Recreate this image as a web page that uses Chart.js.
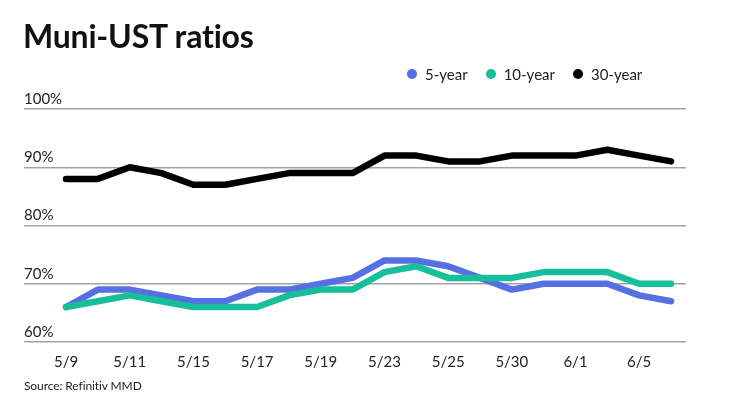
<!DOCTYPE html>
<html>
<head>
<meta charset="utf-8">
<script src="https://cdn.jsdelivr.net/npm/chart.js@4.4.0/dist/chart.umd.min.js"></script>
<style>
  body { margin: 0; background: #fff; font-family: Lato, sans-serif; color: #222; }
  #wrap { position: relative; width: 740px; height: 416px; overflow: hidden; }
  #grafico { position: absolute; left: 0; top: 0; }
  #titulo { position: absolute; left: 23px; top: 16px; font-size: 32px; font-weight: 700; color: #111; letter-spacing: -0.2px; }
  #leyenda { position: absolute; left: 407px; top: 65px; display: flex; font-size: 15px; color: #222; }
  #leyenda span.item { display: flex; align-items: center; margin-right: 18px; }
  #leyenda span.dot { width: 10px; height: 10px; border-radius: 50%; display: inline-block; margin-right: 8px; }
  #fuente { position: absolute; left: 24px; top: 378px; font-size: 12px; color: #222; letter-spacing: -0.1px; }
</style>
</head>
<body>
<div id="wrap">
  <canvas id="grafico" width="740" height="416"></canvas>
  <div id="titulo">Muni-UST ratios</div>
  <div id="leyenda"></div>
  <div id="fuente">Source: Refinitiv MMD</div>
</div>
<script>
// fechas (dias habiles)
const fechas = ['5/9', '5/10', '5/11', '5/12', '5/15', '5/16', '5/17', '5/18', '5/19', '5/22',
                '5/23', '5/24', '5/25', '5/26', '5/30', '5/31', '6/1', '6/2', '6/5', '6/6'];
// indices con etiqueta en el eje x
const etiquetasEje = [0, 2, 4, 6, 8, 10, 12, 14, 16, 18];

const cincoAnios = [66, 69, 69, 68, 67, 67, 69, 69, 70, 71, 74, 74, 73, 71, 69, 70, 70, 70, 68, 67];
const diezAnios  = [66, 67, 68, 67, 66, 66, 66, 68, 69, 69, 72, 73, 71, 71, 71, 72, 72, 72, 70, 70];
const treintaAnios = [88, 88, 90, 89, 87, 87, 88, 89, 89, 89, 92, 92, 91, 91, 92, 92, 92, 93, 92, 91];

const ticksY = [60, 70, 80, 90, 100];

const series = [
  { label: '5-year', data: cincoAnios, color: '#5470e2', order: 1 },
  { label: '10-year', data: diezAnios, color: '#16bf9a', order: 0 },
  { label: '30-year', data: treintaAnios, color: '#000000', order: 2 }
];

// leyenda html
let html = '';
series.forEach(function(s) {
  html += `<span class="item"><span class="dot" style="background:${s.color}"></span>${s.label}</span>`;
});
document.getElementById('leyenda').innerHTML = html;

const ctx = document.getElementById('grafico').getContext('2d');
new Chart(ctx, {
  type: 'line',
  data: {
    datasets: series.map(function(s) {
      return {
        label: s.label,
        data: s.data.map(function(v, i) { return { x: i, y: v }; }),
        borderColor: s.color,
        backgroundColor: s.color,
        borderWidth: 6.5,
        borderCapStyle: 'round',
        borderJoinStyle: 'round',
        pointRadius: 0,
        tension: 0,
        order: s.order
      };
    })
  },
  options: {
    responsive: false,
    animation: false,
    layout: { padding: { left: 24, right: 54, top: 109, bottom: 42 } },
    plugins: { legend: { display: false }, tooltip: { enabled: false } },
    scales: {
      x: {
        type: 'linear',
        min: -1.32,
        max: 19.47,
        grid: { display: false },
        border: { display: false },
        afterBuildTicks: function(scale) {
          scale.ticks = etiquetasEje.map(function(v) { return { value: v }; });
        },
        ticks: {
          autoSkip: false,
          maxRotation: 0,
          padding: 3,
          color: '#222',
          font: { family: 'Lato', size: 15 },
          callback: function(v) { return fechas[v]; }
        }
      },
      y: {
        min: 60,
        max: 100,
        grid: { color: '#a3a3a3', lineWidth: 1.5, drawTicks: false },
        border: { display: false },
        afterBuildTicks: function(scale) {
          scale.ticks = ticksY.map(function(v) { return { value: v }; });
        },
        ticks: {
          mirror: true,
          padding: 0,
          labelOffset: -10,
          color: '#222',
          font: { family: 'Lato', size: 15 },
          callback: function(v) { return v + '%'; }
        }
      }
    }
  }
});
</script>
</body>
</html>
